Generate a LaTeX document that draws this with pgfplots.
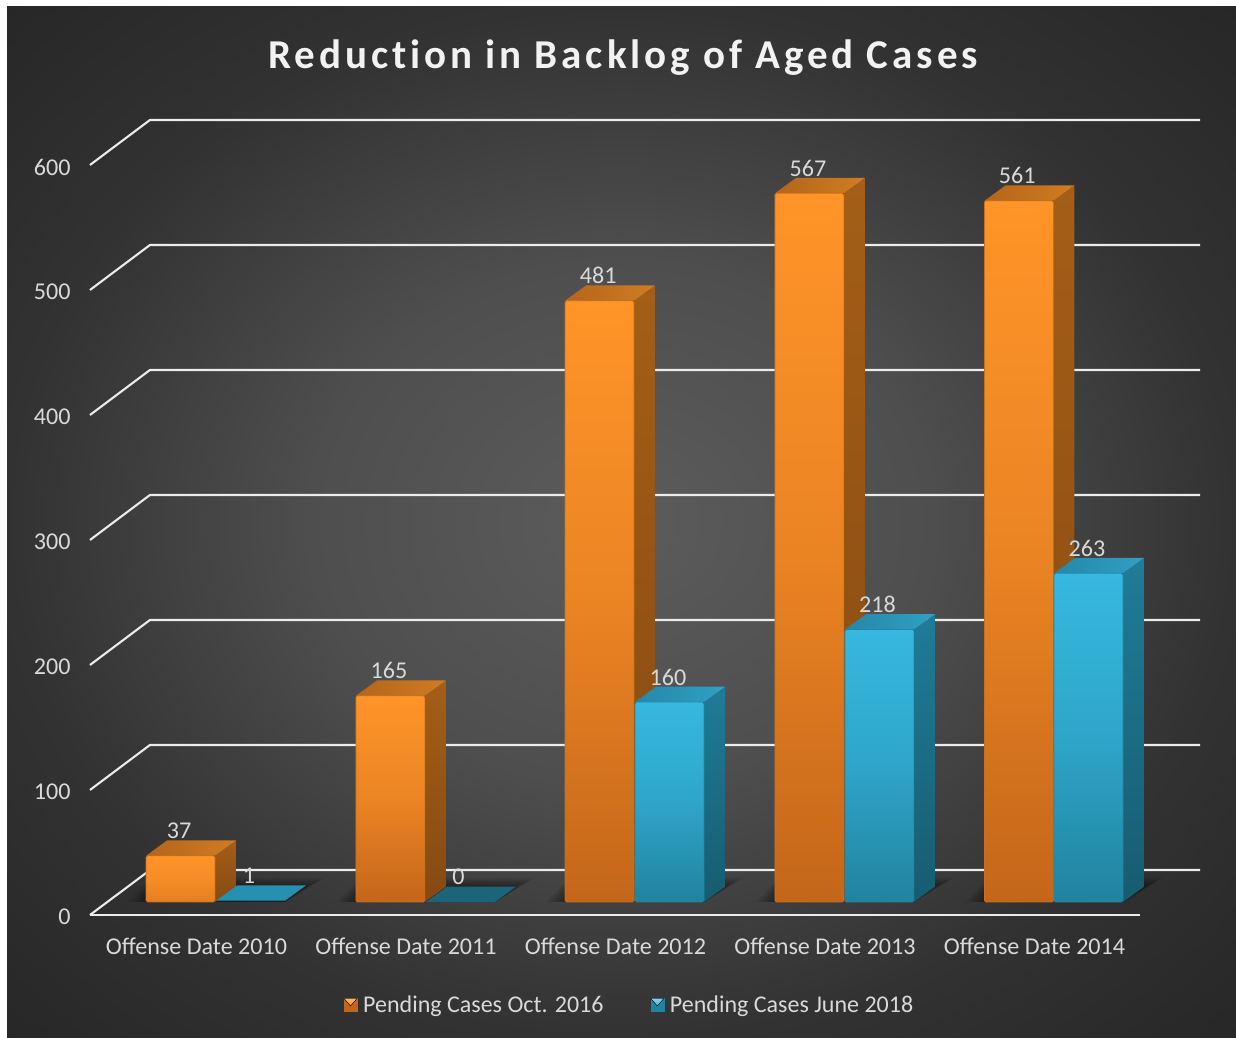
\documentclass[border=0pt]{standalone}
\usepackage{pgfplots}
\pgfplotsset{compat=1.18}
\usepackage{fontspec}
\setmainfont{Carlito}
\newfontfamily\titlefont[LetterSpace=9.6,Ligatures=NoCommon]{Carlito}

\definecolor{orangeTop}{HTML}{FF9428}
\definecolor{orangeBot}{HTML}{C4661A}
\definecolor{orangeSideTop}{HTML}{A45E17}
\definecolor{orangeSideBot}{HTML}{854A12}
\definecolor{orangeCapA}{HTML}{B4651A}
\definecolor{orangeCapB}{HTML}{D07C22}
\definecolor{orangeEdge}{HTML}{C8701C}
\definecolor{tealTop}{HTML}{36B8E0}
\definecolor{tealBot}{HTML}{20839F}
\definecolor{tealSideTop}{HTML}{1F7C98}
\definecolor{tealSideBot}{HTML}{175C70}
\definecolor{tealCapA}{HTML}{2588A8}
\definecolor{tealCapB}{HTML}{30A0C4}
\definecolor{tealEdge}{HTML}{2388A8}
\definecolor{flatA}{HTML}{2690B0}
\definecolor{flatB}{HTML}{1C6479}
\definecolor{labelGrey}{HTML}{D9D9D9}
\definecolor{gridWhite}{HTML}{ECECEC}
\definecolor{bgA}{HTML}{5C5C5C}
\definecolor{bgB}{HTML}{4E4E4E}
\definecolor{bgC}{HTML}{323232}
\definecolor{bgD}{HTML}{272727}

% Backdrop: the panel edge falls at 25bp and its corners at about 35bp
\pgfdeclareradialshading{chartback}{\pgfpointorigin}{%
  color(0bp)=(bgA); color(12.7bp)=(bgB); color(25bp)=(bgC); color(35.4bp)=(bgD); color(50bp)=(bgD)}

% Depth of the box: offset of the rear faces in axis units
\def\depthx{0.1}
\def\depthy{12.2}
\def\barw{0.329}

% One box: #1 left edge, #2 value, #3 colour prefix
\newcommand{\cube}[3]{%
  \pgfmathsetmacro\xa{#1}%
  \pgfmathsetmacro\xb{#1+\barw}%
  \pgfmathsetmacro\xc{#1+\depthx}%
  \pgfmathsetmacro\xd{#1+\barw+\depthx}%
  \pgfmathsetmacro\yt{#2+\depthy}%
  \pgfmathsetmacro\pct{max(0,70*(1-#2/160))}%
  \edef\temp{%
    \noexpand\addplot[forget plot,draw=none,top color=#3SideTop,bottom color=#3SideBot]
      coordinates {(\xb,0) (\xd,\depthy) (\xd,\yt) (\xb,#2)} --cycle;
    \noexpand\addplot[forget plot,draw=none,left color=#3CapA,right color=#3CapB]
      coordinates {(\xa,#2) (\xc,\yt) (\xd,\yt) (\xb,#2)} --cycle;
    \noexpand\addplot[forget plot,draw=#3Edge,line width=0.7pt,rounded corners=1.5pt,
      top color=#3Top,bottom color=#3Top!\pct!#3Bot,
      middle color=#3Top!\pct!#3Bot!35!#3Top]
      coordinates {(\xa,0) (\xa,#2) (\xb,#2) (\xb,0)} --cycle;
  }\temp}

% A box too low to show a front face: only its lid
\newcommand{\flatcube}[3]{%
  \pgfmathsetmacro\xa{#1}%
  \pgfmathsetmacro\xb{#1+\barw}%
  \pgfmathsetmacro\xc{#1+\depthx}%
  \pgfmathsetmacro\xd{#1+\barw+\depthx}%
  \pgfmathsetmacro\yt{#2+\depthy}%
  \edef\temp{%
    \noexpand\addplot[forget plot,draw=none,fill=#3]
      coordinates {(\xa,#2) (\xc,\yt) (\xd,\yt) (\xb,#2)} --cycle;
  }\temp}

% Soft floor shadow under a pair of boxes, built from stacked translucent layers
\newcommand{\floorshadow}[1]{%
  \foreach \d in {0.01,0.025,0.04,0.055,0.07,0.09}{%
    \pgfmathsetmacro\xa{#1-\d}%
    \pgfmathsetmacro\xb{#1+0.663+\depthx+\d}%
    \pgfmathsetmacro\xc{#1+0.02}%
    \pgfmathsetmacro\xd{#1+0.663}%
    \pgfmathsetmacro\yt{12.2+\d*80}%
    \edef\temp{%
      \noexpand\addplot[forget plot,draw=none,fill=black,fill opacity=0.08]
        coordinates {(\xa,0) (\xc,\yt) (\xb,\yt) (\xd,0)} --cycle;
    }\temp}}

% Gridline running across the floor level: front tick, slanted wall edge, rear line
\newcommand{\wallline}[1]{%
  \pgfmathsetmacro\yf{#1-10.4}%
  \pgfmathsetmacro\yb{#1+25.6}%
  \edef\temp{%
    \noexpand\addplot[forget plot,gridWhite,line width=2.1pt,line join=round]
      coordinates {(-0.5084,\yf) (-0.2220,\yb) (4.790,\yb)};
  }\temp}

\begin{document}
\begin{tikzpicture}[x=1pt,y=1pt]
  \fill[white] (0,0) rectangle (1236,1038);
  \shade[shading=chartback] (7,0) rectangle (1236,1031);
  \begin{axis}[
    at={(90pt,123pt)}, anchor=south west,
    scale only axis, width=1110pt, height=795pt,
    xmin=-0.5084, xmax=4.790, ymin=-10.4, ymax=625.6,
    clip=false,
    axis line style={draw=none},
    major tick length=0pt,
    xtick={0,1,2,3,4},
    xticklabels={Offense Date 2010,Offense Date 2011,Offense Date 2012,Offense Date 2013,Offense Date 2014},
    ytick={-10.4,89.6,189.6,289.6,389.6,489.6,589.6},
    yticklabels={0,100,200,300,400,500,600},
    ticklabel style={text=labelGrey,font=\fontsize{24.1}{28}\selectfont},
    xticklabel style={anchor=center,yshift=-31pt},
    yticklabel style={anchor=east,xshift=-16pt,yshift=-2pt},
    /pgf/number format/assume math mode=true,
    title={\titlefont\fontsize{41}{49}\selectfont\bfseries Reduction in Backlog of Aged Cases},
    title style={at={(0.4802,1.0705)},anchor=center,text=white!95!black},
    legend columns=2,
    legend cell align=left,
    legend style={at={(0.4856,-0.1132)},anchor=center,draw=none,fill=none,
      text=labelGrey,font=\fontsize{24}{28}\selectfont,
      /tikz/every even column/.append style={column sep=46pt},
      nodes={inner sep=1pt}},
  ]
    % Walls and floor
    \wallline{0}\wallline{100}\wallline{200}\wallline{300}\wallline{400}\wallline{500}\wallline{600}
    \addplot[forget plot,gridWhite,line width=2.1pt]
      coordinates {(-0.5084,-10.4) (4.5036,-10.4)};

    \floorshadow{-0.241}
    \floorshadow{0.761}
    \floorshadow{1.759}
    \floorshadow{2.761}
    \floorshadow{3.761}

    % Pending Cases Oct. 2016 and June 2018, one pair per offense year
    \cube{-0.241}{37}{orange}
    \flatcube{0.093}{1}{flatA}
    \cube{0.761}{165}{orange}
    \flatcube{1.095}{0}{flatB}
    \cube{1.759}{481}{orange}
    \cube{2.093}{160}{teal}
    \cube{2.761}{567}{orange}
    \cube{3.095}{218}{teal}
    \cube{3.761}{561}{orange}
    \cube{4.093}{263}{teal}

    % Value labels
    \addplot[forget plot,draw=none,nodes near coords,point meta=y,
      every node near coord/.append style={anchor=center,yshift=25pt,text=labelGrey,font=\fontsize{24.1}{28}\selectfont,/pgf/number format/assume math mode=true}]
      coordinates {(-0.083,37) (0.919,165) (1.917,481) (2.919,567) (3.917,561)};
    \addplot[forget plot,draw=none,nodes near coords,point meta=y,
      every node near coord/.append style={anchor=center,yshift=25pt,text=labelGrey,font=\fontsize{24.1}{28}\selectfont,/pgf/number format/assume math mode=true}]
      coordinates {(0.25,1) (1.25,0) (2.25,160) (3.25,218) (4.25,263)};

    \addlegendimage{legend image code/.code={%
      \path (18pt,0pt);
      \fill[orangeBot] (0pt,-6.5pt) rectangle (13pt,6.5pt);
      \fill[top color=orangeTop!70!white,bottom color=orangeTop] (0pt,6.5pt) -- (13pt,6.5pt) -- (6.5pt,-1pt) -- cycle;}}
    \addlegendentry{Pending Cases Oct. 2016}
    \addlegendimage{legend image code/.code={%
      \path (18pt,0pt);
      \fill[tealBot] (0pt,-6.5pt) rectangle (13pt,6.5pt);
      \fill[top color=tealTop!60!white,bottom color=tealTop] (0pt,6.5pt) -- (13pt,6.5pt) -- (6.5pt,-1pt) -- cycle;}}
    \addlegendentry{Pending Cases June 2018}
  \end{axis}
\end{tikzpicture}
\end{document}
